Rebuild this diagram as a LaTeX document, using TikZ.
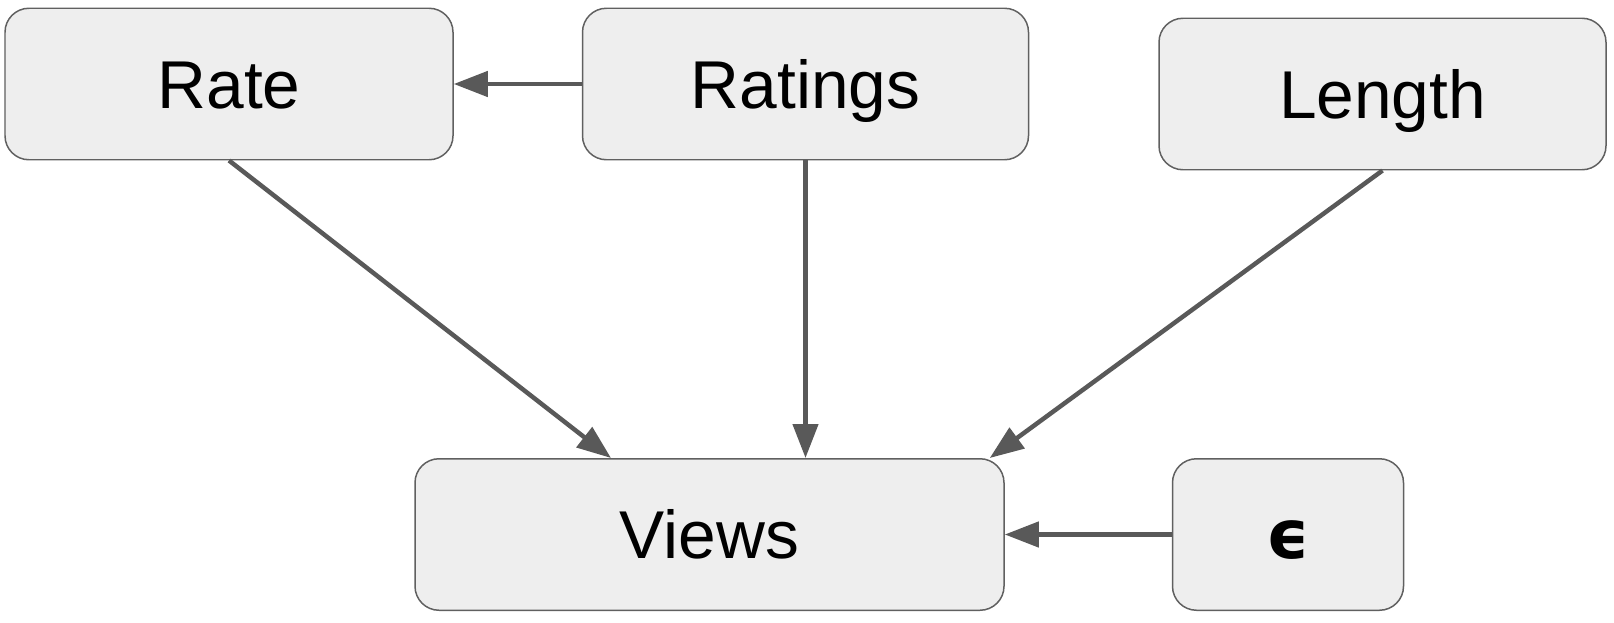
\documentclass[tikz,border=0pt]{standalone}
\usepackage{fontspec}
\setmainfont{Liberation Sans}
\newfontfamily\epsfont{DejaVu Sans}
\usetikzlibrary{positioning,arrows.meta}
\definecolor{boxFill}{HTML}{EEEEEE}
\definecolor{boxBorder}{HTML}{606060}
\definecolor{arrowLine}{HTML}{595959}

\begin{document}
\begin{tikzpicture}[
    block/.style={
        rectangle, draw=boxBorder, fill=boxFill,
        minimum width=8.94cm, minimum height=3.03cm,
        text height=27.4pt, text depth=0pt,
        align=center, rounded corners=0.48cm,
        line width=0.85pt, font=\fontsize{38.5}{46}\selectfont
    },
    arrow/.style={-{Triangle[length=0.68cm, width=0.5cm]}, line width=0.09cm, draw=arrowLine}
]
  \useasboundingbox (0,0) rectangle (32.28,-12.44);

  % Nodes
  \node[block, minimum width=8.96cm] (rate) at (4.58,-1.68) {Rate};
  \node[block, minimum width=8.92cm, right=2.56cm of rate] (ratings) {Ratings};
  \node[block, right=2.58cm of ratings, yshift=-0.2cm] (length) {Length};

  \node[block, minimum width=11.78cm] (views) at (14.19,-10.69) {Views};
  \node[block, minimum width=4.62cm, right=3.34cm of views] (eps) {\vphantom{V}{\epsfont\bfseries ϵ}};

  % Causes of views
  \draw[arrow] (ratings) -- (rate);
  \draw[arrow] (rate.south) -- ([xshift=-1.97cm]views.north);
  \draw[arrow] (ratings.south) -- (ratings.south |- views.north);
  \draw[arrow] (length.south) -- ([xshift=-0.3cm]views.north east);

  % Noise term
  \draw[arrow] (eps) -- (views);

\end{tikzpicture}
\end{document}
